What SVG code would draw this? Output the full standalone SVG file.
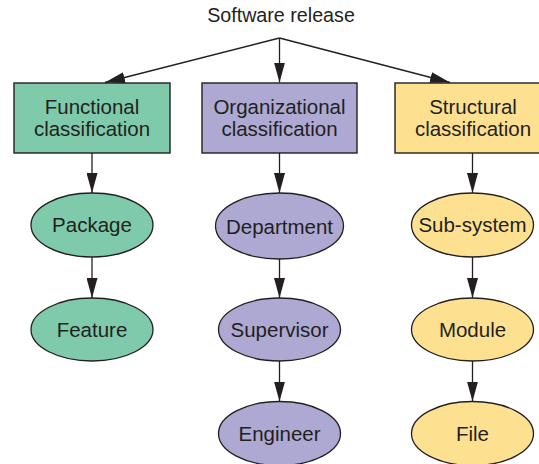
<svg xmlns="http://www.w3.org/2000/svg" width="539" height="464" viewBox="0 0 539 464">
<style>
text{font-family:"Liberation Sans",Arial,sans-serif;font-size:20.5px;fill:#231f20;text-anchor:middle}
.box{stroke:#231f20;stroke-width:1.4}
.ell{stroke:#231f20;stroke-width:1.3}
.g{fill:#7ecaab}.p{fill:#ada9d3}.y{fill:#fee190}
.c{stroke:#231f20;stroke-width:1.3;fill:none;marker-end:url(#ah)}
</style>
<defs>
<marker id="ah" markerUnits="userSpaceOnUse" markerWidth="20" markerHeight="11" refX="20" refY="5.5" orient="auto">
<path d="M0,0 L20,5.5 L0,11 Z" fill="#231f20"/>
</marker>
</defs>
<rect width="539" height="464" fill="#fff"/>
<g id="release"><text x="281" y="22" style="font-size:19.7px">Software release</text></g>
<g id="functional"><rect class="box g" x="14" y="83" width="156" height="70"/><text x="92" y="114">Functional</text><text x="92" y="136">classification</text></g>
<g id="organizational"><rect class="box p" x="202" y="83" width="155" height="70"/><text x="279.5" y="114">Organizational</text><text x="279.5" y="136">classification</text></g>
<g id="structural"><rect class="box y" x="395" y="83" width="156" height="70"/><text x="473" y="114">Structural</text><text x="473" y="136">classification</text></g>
<g id="package"><ellipse class="ell g" cx="92" cy="225" rx="61" ry="32"/><text x="92" y="232">Package</text></g>
<g id="feature"><ellipse class="ell g" cx="92" cy="329.5" rx="61" ry="31.5"/><text x="92" y="336.5">Feature</text></g>
<g id="department"><ellipse class="ell p" cx="279.5" cy="226" rx="64" ry="33"/><text x="279.5" y="233.5">Department</text></g>
<g id="supervisor"><ellipse class="ell p" cx="279.5" cy="329.5" rx="61" ry="31.5"/><text x="279.5" y="336.5">Supervisor</text></g>
<g id="engineer"><ellipse class="ell p" cx="279.5" cy="433.5" rx="61" ry="32"/><text x="279.5" y="440.5">Engineer</text></g>
<g id="subsystem"><ellipse class="ell y" cx="472.5" cy="225" rx="61" ry="32"/><text x="472.5" y="232">Sub-system</text></g>
<g id="module"><ellipse class="ell y" cx="472.5" cy="329.5" rx="61" ry="31.5"/><text x="472.5" y="336.5">Module</text></g>
<g id="file"><ellipse class="ell y" cx="472.5" cy="433.5" rx="61" ry="32"/><text x="472.5" y="440.5">File</text></g>
<g id="connectors">
<path class="c" d="M279.5,38 L105,82.5"/>
<path class="c" d="M279.5,38 L279.5,82.5"/>
<path class="c" d="M279.5,38 L450,82.5"/>
<path class="c" d="M92,153 L92,193"/>
<path class="c" d="M92,257 L92,298"/>
<path class="c" d="M279.5,153 L279.5,193"/>
<path class="c" d="M279.5,259 L279.5,298"/>
<path class="c" d="M279.5,361 L279.5,401.5"/>
<path class="c" d="M472.5,153 L472.5,193"/>
<path class="c" d="M472.5,257 L472.5,298"/>
<path class="c" d="M472.5,361 L472.5,401.5"/>
</g>
</svg>
